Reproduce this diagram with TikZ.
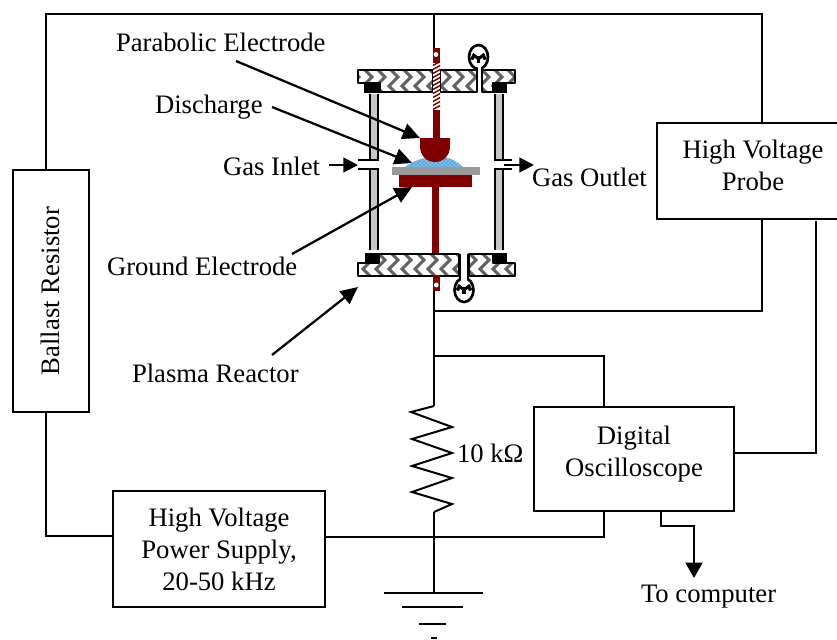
\documentclass[tikz,border=0pt]{standalone}
\usepackage{fontspec}
\setmainfont{Liberation Serif}
\usetikzlibrary{arrows.meta,patterns,calc}
\definecolor{rodred}{HTML}{800000}
\definecolor{platGray}{HTML}{999999}
\definecolor{dischargeBlue}{HTML}{5FA8DC}
\tikzset{
  x=0.75pt,y=-0.75pt,
  wire/.style={draw=black,line width=1.5pt},
  boxed/.style={draw=black,line width=1.5pt,fill=white,inner sep=0pt,outer sep=0pt,align=center,font=\fontsize{20}{24}\selectfont},
  txt/.style={inner sep=0pt,outer sep=0pt,font=\fontsize{20}{24}\selectfont},
  ptr/.style={draw=black,line width=1.7pt,-{Triangle[length=13pt,width=12pt]}},
  ptrgas/.style={draw=black,line width=1.7pt,-{Triangle[length=11pt,width=11pt]}},
  flange/.style={draw=black,line width=1.9pt,line join=round},
  tube/.style={draw=black,line width=1.5pt,fill=black!22},
  stub/.style={draw=black,line width=1.5pt},
  hatchstroke/.style={draw=black!62,line width=2.2pt},
  redfill/.style={fill=rodred,draw=none},
  gaugebulb/.style={draw=black,line width=2pt,fill=white},
}
\newcommand{\flangehatch}[4]{%
  \begin{scope}
    \clip (#1,#2) rectangle (#3,#4);
    \foreach \k in {0,...,16}{
      \draw[hatchstroke] ({350+\k*13},{#2-2}) -- ++(9,9) -- ++(-9,9) -- ++(9,9);
    }
  \end{scope}}
\newcommand{\gaugemark}[2]{%
  \draw[line width=2.2pt] ({#1-6},{#2-3}) -- ({#1},{#2+2}) -- ({#1+6},{#2-3});
  \draw[line width=2.4pt] (#1,{#2-1}) -- (#1,{#2+6});
  \fill ({#1-6},{#2+1}) circle (2);
  \fill ({#1+6},{#2+1}) circle (2);}
\begin{document}
\begin{tikzpicture}
\useasboundingbox (0,0) rectangle (837,639);
\fill[white] (0,0) rectangle (837,639);

% boxes
\node[boxed,minimum width=57pt,minimum height=181.5pt] (ballast) at (50.5,291) {\rotatebox{90}{Ballast Resistor}};
\node[boxed,minimum width=159pt,minimum height=87pt] (supply) at (219,549) {High Voltage\\Power Supply,\\20-50 kHz};
\node[boxed,minimum width=144pt,minimum height=72pt] (probe) at (753,171) {High Voltage\\Probe\\[-15pt]\mbox{}};
\node[boxed,minimum width=150pt,minimum height=78pt] (scope) at (634,459) {Digital\\Oscilloscope\\[-12pt]\mbox{}};

% wire corners
\coordinate (topL) at (46,14);
\coordinate (topR) at (762,14);
\coordinate (topRod) at (434,14);
\coordinate (rodTop) at (434,48);
\coordinate (rodBot) at (434,291);
\coordinate (rodJ) at (434,311);
\coordinate (oscJ) at (434,356);
\coordinate (resT) at (434,406);
\coordinate (resB) at (434,512);
\coordinate (gnd1) at (434,593);
\coordinate (busJ) at (434,537);
\coordinate (oscTap) at (604,356);
\coordinate (busTap) at (604,537);
\coordinate (supL) at (46,536);
\coordinate (sigStart) at (816,221);
\coordinate (sigEnd) at (816,453);

% wires
\draw[wire] (topL |- ballast.north) -- (topL) -- (topR) -- (topR |- probe.north);
\draw[wire] (topRod) -- (rodTop);
\draw[wire] (rodBot) -- (resT);
\draw[wire] (resB) -- (gnd1);
\draw[wire] (topR |- probe.south) -- (topR |- rodJ) -- (rodJ);
\draw[wire] (oscJ) -- (oscTap) -- (oscTap |- scope.north);
\draw[wire] (topL |- ballast.south) -- (supL) -- (supL -| supply.west);
\draw[wire] (busJ -| supply.east) -- (busTap) -- (busTap |- scope.south);
\draw[wire] (sigStart) -- (sigEnd) -- (sigEnd -| scope.east);
\draw[wire,line join=miter] (resT) -- (411,412) -- (452,427) -- (412,439) -- (452,453) -- (412,466) -- (452,478) -- (412,492) -- (452,504) -- (resB);
% ground
\draw[wire] (384,593) -- (483,593);
\draw[wire] (402,607) -- (463,607);
\draw[wire] (419,624) -- (446,624);
\draw[wire] (431,638) -- (437,638);
% to computer
\draw[line width=2pt,-{Triangle[length=11.5pt,width=12.5pt]}] (661,511) -- (661,526) -- (694,526) -- (694,578);

% reactor: tubes
\draw[tube] (370,92) rectangle (378,160);
\draw[tube] (370,169) rectangle (378,253);
\draw[tube] (495,92) rectangle (503,160);
\draw[tube] (495,169) rectangle (503,253);
\draw[stub] (358,160) -- (378,160);
\draw[stub] (358,169) -- (378,169);
\draw[stub] (495,160) -- (512,160);
\draw[stub] (495,169) -- (512,169);

% top flange
\fill[white] (358,70) rectangle (515,92);
\flangehatch{358}{70}{433}{92}
\flangehatch{440}{70}{477}{92}
\flangehatch{482}{70}{515}{92}
\fill[white] (356,84) rectangle (380,94);
\fill[white] (493,84) rectangle (517,94);
\draw[flange] (358,70) -- (433,70) -- (433,92) -- (380,92) -- (380,83) -- (358,83) -- cycle;
\draw[flange] (440,70) -- (477,70) -- (477,92) -- (440,92) -- cycle;
\draw[flange] (482,70) -- (515,70) -- (515,83) -- (493,83) -- (493,92) -- (482,92) -- cycle;
\fill[black] (364,82) rectangle (380,93);
\fill[black] (493,82) rectangle (507,93);
% top neck & gauge
\draw[gaugebulb] (478.5,57) ellipse [x radius=9.5,y radius=12];
\gaugemark{478.5}{57}
\fill[white] (478,67) rectangle (481,92);
\draw[line width=1.3pt] (477,69) -- (477,92);
\draw[line width=1.3pt] (482,69) -- (482,92);

% bottom flange
\fill[white] (357,253) rectangle (515,276);
\flangehatch{358}{253}{459}{276}
\flangehatch{469}{253}{515}{276}
\fill[white] (356,250) rectangle (379,263);
\fill[white] (493,250) rectangle (517,263);
\draw[flange] (379,254) -- (459,254) -- (459,276) -- (358,276) -- (358,263) -- (379,263) -- cycle;
\draw[flange] (469,254) -- (493,254) -- (493,263) -- (515,263) -- (515,276) -- (469,276) -- cycle;
\fill[black] (365,253) rectangle (379,264);
\fill[black] (493,253) rectangle (507,264);
% bottom gauge
\fill[white] (460.5,255) rectangle (467.5,280);
\draw[gaugebulb] (464,290) ellipse [x radius=9.5,y radius=12];
\fill[white] (461,276) rectangle (467,281);
\draw[line width=1.3pt] (460,254) -- (460,280);
\draw[line width=1.3pt] (468,254) -- (468,280);
\gaugemark{464}{288}

% rods
\fill[redfill] (433,48) rectangle (440,140);
\fill[white] (433,63) rectangle (440,110);
\begin{scope}
  \clip (433,63) rectangle (440,110);
  \foreach \yy in {62,66,...,112}{\draw[rodred,line width=1.1pt] (432,\yy) -- (441,{\yy-5});}
\end{scope}
\fill[white] (436,54.5) circle (2.4);
\fill[redfill] (433,275) rectangle (440,291);
\fill[white] (436.3,285) circle (2.4);

% discharge
\path[fill=dischargeBlue] (405,167) .. controls (415,160) and (425,156) .. (440,157) .. controls (450,157) and (456,161) .. (463,167) -- cycle;
\path[pattern=crosshatch dots,pattern color=white] (405,167) .. controls (415,160) and (425,156) .. (440,157) .. controls (450,157) and (456,161) .. (463,167) -- cycle;
% parabolic electrode
\fill[redfill] (420,138) -- (450,138) -- (450,146) .. controls (450,156) and (443,162) .. (435,162) .. controls (427,162) and (420,156) .. (420,146) -- cycle;
% plate and ground electrode
\fill[platGray] (392,167) rectangle (480,175);
\fill[redfill] (399,175) rectangle (472,187);
\fill[redfill] (432,187) rectangle (439,253);

% labels
\node[txt,anchor=base west] (lparab) at (116,51) {Parabolic Electrode};
\node[txt,anchor=base west] (ldisch) at (155,113) {Discharge};
\node[txt,anchor=base west] (linlet) at (223,175) {Gas Inlet};
\node[txt,anchor=base west] (lground) at (107,275) {Ground Electrode};
\node[txt,anchor=base west] (lreact) at (132,382) {Plasma Reactor};
\node[txt,anchor=base west] (loutlet) at (532,186) {Gas Outlet};
\node[txt,anchor=base west] (lres) at (457,462) {10 kΩ};
\node[txt,anchor=base west] (lcomp) at (641,602) {To computer};

% pointers
\coordinate (pParab) at (420,138);
\coordinate (pDisch) at (412,163);
\coordinate (pInlet) at (358,165);
\coordinate (pGround) at (412,187);
\coordinate (pReact) at (358,287);
\coordinate (pOutlet) at (534,165);
\draw[ptr] (236,61) -- (pParab);
\draw[ptr] (272,107) -- (pDisch);
\draw[ptrgas] (329,165) -- (pInlet);
\draw[ptr] (292,254) -- (pGround);
\draw[ptr] (272,355) -- (pReact);
\draw[ptrgas] (504,165) -- (pOutlet);
\end{tikzpicture}
\end{document}
